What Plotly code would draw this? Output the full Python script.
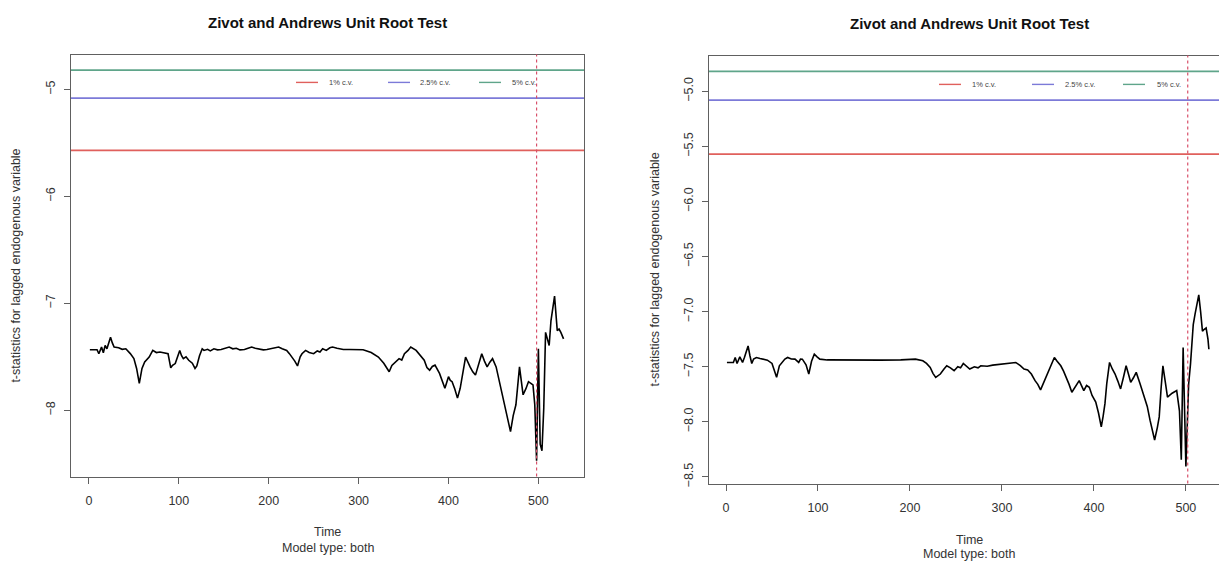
import plotly.graph_objects as go

W, H = 1219, 565

# ---------------- data ----------------
title_text = "Zivot and Andrews Unit Root Test"
ylab = "t-statistics for lagged endogenous variable"
xlab = "Time"
sub = "Model type: both"
cv_labels = ["1% c.v.", "2.5% c.v.", "5% c.v."]
cv_values = [-5.57, -5.08, -4.82]

left_t = [1, 5, 9, 11, 14, 16, 18, 20, 22, 24, 26, 28, 33, 37, 41, 46, 50, 53, 56, 59,
          62, 65, 67, 71, 75, 79, 84, 88, 91, 93, 96, 101, 103, 105, 108, 111, 115, 118, 120, 123,
          126, 128, 132, 135, 139, 143, 147, 151, 156, 160, 164, 168, 173, 177, 181, 185, 190, 194, 198, 203,
          207, 211, 215, 220, 223, 226, 229, 232, 235, 237, 241, 245, 250, 254, 257, 260, 264, 268, 271, 276,
          283, 290, 298, 305, 314, 322, 328, 334, 337, 341, 345, 348, 351, 355, 358, 364, 368, 373, 376, 379,
          382, 385, 390, 393, 396, 398, 400, 402, 404, 407, 410, 413, 416, 419, 424, 427, 430, 434, 437, 440,
          443, 446, 449, 453, 457, 462, 466, 469, 472, 475, 479, 481, 483, 486, 489, 492, 494, 496, 498, 500,
          502, 504, 506, 508, 510, 512, 514, 516, 518, 521, 523, 525, 528]
left_stat = [-7.434, -7.434, -7.434, -7.471, -7.409, -7.462, -7.394, -7.425, -7.380, -7.317,
             -7.370, -7.409, -7.415, -7.430, -7.425, -7.470, -7.517, -7.609, -7.748, -7.609,
             -7.548, -7.520, -7.502, -7.440, -7.460, -7.455, -7.465, -7.471, -7.603, -7.580,
             -7.563, -7.440, -7.490, -7.517, -7.500, -7.532, -7.560, -7.609, -7.585, -7.490,
             -7.425, -7.440, -7.430, -7.445, -7.425, -7.435, -7.431, -7.420, -7.409, -7.425,
             -7.420, -7.435, -7.431, -7.420, -7.409, -7.420, -7.425, -7.435, -7.431, -7.420,
             -7.412, -7.409, -7.425, -7.440, -7.470, -7.502, -7.540, -7.585, -7.500, -7.471,
             -7.440, -7.460, -7.471, -7.445, -7.455, -7.425, -7.440, -7.415, -7.409, -7.420,
             -7.431, -7.432, -7.436, -7.434, -7.460, -7.502, -7.560, -7.640, -7.580, -7.548,
             -7.517, -7.530, -7.471, -7.440, -7.409, -7.440, -7.480, -7.532, -7.600, -7.625,
             -7.590, -7.578, -7.655, -7.720, -7.794, -7.740, -7.686, -7.720, -7.732, -7.800,
             -7.886, -7.794, -7.650, -7.502, -7.594, -7.640, -7.671, -7.560, -7.471, -7.540,
             -7.594, -7.550, -7.517, -7.594, -7.750, -7.948, -8.100, -8.200, -8.050, -7.948,
             -7.594, -7.720, -7.855, -7.800, -7.732, -7.750, -7.763, -7.948, -8.471, -7.425,
             -8.317, -8.378, -7.978, -7.271, -7.330, -7.394, -7.163, -7.055, -6.932, -7.255,
             -7.240, -7.271, -7.332]
left_break = 498

right_t = [1, 8, 10, 12, 15, 18, 20, 22, 24, 26, 28, 30, 33, 37, 41, 45, 50, 53, 55, 58,
           62, 64, 67, 71, 75, 79, 81, 83, 87, 90, 93, 96, 99, 102, 110, 126, 150, 168, 190, 206,
           214, 218, 222, 225, 228, 231, 233, 237, 240, 244, 248, 252, 255, 258, 262, 265, 270, 274, 277, 284,
           290, 294, 302, 309, 315, 320, 324, 328, 332, 336, 339, 342, 345, 349, 353, 357, 360, 364, 367, 370,
           373, 376, 380, 384, 387, 389, 392, 395, 398, 402, 405, 408, 410, 412, 414, 417, 420, 423, 426, 429,
           432, 435, 438, 440, 443, 446, 450, 454, 458, 461, 464, 466, 469, 471, 473, 475, 478, 480, 485, 490,
           493, 495, 497, 499, 500, 502, 503, 505, 507, 508, 510, 511, 513, 514, 516, 518, 520, 522, 524, 525]
right_stat = [-7.461, -7.461, -7.416, -7.470, -7.410, -7.461, -7.416, -7.370, -7.311, -7.400,
              -7.470, -7.430, -7.416, -7.425, -7.431, -7.440, -7.470, -7.540, -7.596, -7.491,
              -7.446, -7.430, -7.416, -7.430, -7.431, -7.461, -7.430, -7.431, -7.482, -7.566,
              -7.450, -7.386, -7.410, -7.431, -7.438, -7.440, -7.441, -7.440, -7.438, -7.431,
              -7.446, -7.470, -7.506, -7.560, -7.596, -7.580, -7.566, -7.520, -7.491, -7.510,
              -7.536, -7.500, -7.510, -7.470, -7.500, -7.521, -7.500, -7.510, -7.491, -7.495,
              -7.485, -7.482, -7.470, -7.465, -7.461, -7.490, -7.521, -7.530, -7.566, -7.626,
              -7.660, -7.710, -7.650, -7.581, -7.500, -7.416, -7.450, -7.491, -7.540, -7.596,
              -7.660, -7.731, -7.680, -7.626, -7.680, -7.716, -7.670, -7.686, -7.760, -7.820,
              -7.920, -8.045, -7.950, -7.835, -7.650, -7.461, -7.520, -7.566, -7.630, -7.701,
              -7.600, -7.491, -7.580, -7.641, -7.600, -7.551, -7.650, -7.746, -7.860, -7.985,
              -8.100, -8.165, -8.050, -7.955, -7.700, -7.491, -7.660, -7.775, -7.740, -7.716,
              -7.900, -8.344, -7.326, -8.100, -8.404, -7.900, -7.656, -7.476, -7.250, -7.117,
              -7.020, -6.967, -6.900, -6.847, -7.000, -7.177, -7.160, -7.147, -7.250, -7.341]
right_break = 502

left_xticks = [0, 100, 200, 300, 400, 500]
left_yticks = [-8, -7, -6, -5]
right_xticks = [0, 100, 200, 300, 400, 500]
right_yticks = [-8.5, -8.0, -7.5, -7.0, -6.5, -6.0, -5.5, -5.0]

assert len(left_t) == len(left_stat) and len(right_t) == len(right_stat)

# ---------------- style ----------------
FONT = "Liberation Sans, Arial, sans-serif"
cv_colors = ["#e0605c", "#7c7ad8", "#5fa58a"]
break_color = "#d8506a"
axis_color = "#606060"
text_color = "#333333"


def px(x):
    return x / W


def py(y):
    return 1 - y / H


panels = [
    dict(xa="x", ya="y", t=left_t, v=left_stat, bp=left_break,
         xdom=[px(70.8), px(584.4)], ydom=[py(480), py(55)],
         xr=[-20.2, 551.2], yr=[-8.62, -4.674], xt=left_xticks, yt=left_yticks,
         yfmt="d", ymirror=True, cx=327.6, title_y=23, xlab_y=536, sub_y=552,
         ylab_x=16, leg_y=83, leg_x=[296, 388, 479], leg_tx=[327, 418, 510]),
    dict(xa="x2", ya="y2", t=right_t, v=right_stat, bp=right_break,
         xdom=[px(709), 1.0], ydom=[py(487), py(56)],
         xr=[-18.5, 536], yr=[-8.56, -4.676], xt=right_xticks, yt=right_yticks,
         yfmt=".1f", ymirror=False, cx=969, title_y=24, xlab_y=544, sub_y=558,
         ylab_x=655, leg_y=85, leg_x=[939, 1032, 1123], leg_tx=[970, 1063, 1155]),
]

fig = go.Figure()
shapes = []
annotations = []

for i, p in enumerate(panels):
    sfx = "" if i == 0 else "2"
    fig.add_trace(go.Scatter(x=p["t"], y=p["v"], mode="lines", xaxis=p["xa"], yaxis=p["ya"],
                             line=dict(color="black", width=1.6), showlegend=False,
                             hoverinfo="skip"))
    axis_common = dict(showgrid=False, zeroline=False, showline=True, linecolor=axis_color,
                       linewidth=1.2, ticks="outside", ticklen=6, tickcolor=axis_color,
                       tickfont=dict(family=FONT, size=12.5, color=text_color))
    fig.update_layout(**{
        "xaxis" + sfx: dict(domain=p["xdom"], range=p["xr"], tickvals=p["xt"],
                            anchor="y" + sfx, mirror=True, ticklabelstandoff=6,
                            **axis_common),
        "yaxis" + sfx: dict(domain=p["ydom"], range=p["yr"], tickvals=p["yt"],
                            tickformat=p["yfmt"], anchor="x" + sfx, mirror=p["ymirror"],
                            tickangle=-90, ticklabelstandoff=4, **axis_common),
    })
    # critical value lines
    for cv, col in zip(cv_values, cv_colors):
        shapes.append(dict(type="line", xref=p["xa"] + " domain", yref=p["ya"],
                           x0=0, x1=1, y0=cv, y1=cv, line=dict(color=col, width=1.8),
                           layer="below"))
    # break point
    shapes.append(dict(type="line", xref=p["xa"], yref=p["ya"] + " domain",
                       x0=p["bp"], x1=p["bp"], y0=0, y1=1,
                       line=dict(color=break_color, width=1.2, dash="3px,3px")))
    # legend keys and labels
    for lx, tx, lab, col in zip(p["leg_x"], p["leg_tx"], cv_labels, cv_colors):
        shapes.append(dict(type="line", xref="paper", yref="paper",
                           x0=px(lx), x1=px(lx + 22), y0=py(p["leg_y"]), y1=py(p["leg_y"]),
                           line=dict(color=col, width=1.4)))
        annotations.append(dict(text=lab, xref="paper", yref="paper", x=px(tx),
                                y=py(p["leg_y"]), xanchor="left", yanchor="middle",
                                showarrow=False,
                                font=dict(family=FONT, size=7.5, color="#444444")))
    # titles
    annotations.append(dict(text="<b>" + title_text + "</b>", xref="paper", yref="paper",
                            x=px(p["cx"]), y=py(p["title_y"]), xanchor="center",
                            yanchor="middle", showarrow=False,
                            font=dict(family=FONT, size=15, color="#111111")))
    annotations.append(dict(text=xlab, xref="paper", yref="paper", x=px(p["cx"]),
                            y=py(p["xlab_y"]), xanchor="center", yanchor="middle",
                            showarrow=False, font=dict(family=FONT, size=12.5, color=text_color)))
    annotations.append(dict(text=sub, xref="paper", yref="paper", x=px(p["cx"]),
                            y=py(p["sub_y"]), xanchor="center", yanchor="middle",
                            showarrow=False, font=dict(family=FONT, size=12.5, color=text_color)))
    ymid = (p["ydom"][0] + p["ydom"][1]) / 2
    annotations.append(dict(text=ylab, xref="paper", yref="paper", x=px(p["ylab_x"]),
                            y=ymid, xanchor="center", yanchor="middle", textangle=-90,
                            showarrow=False, font=dict(family=FONT, size=12.5, color=text_color)))

fig.update_layout(width=W, height=H, margin=dict(l=0, r=0, t=0, b=0),
                  paper_bgcolor="white", plot_bgcolor="white",
                  shapes=shapes, annotations=annotations, showlegend=False)

fig.write_html("out.html", include_plotlyjs=True, config={"displayModeBar": False},
               post_script="document.body.style.margin='0';document.body.style.overflow='hidden';")
